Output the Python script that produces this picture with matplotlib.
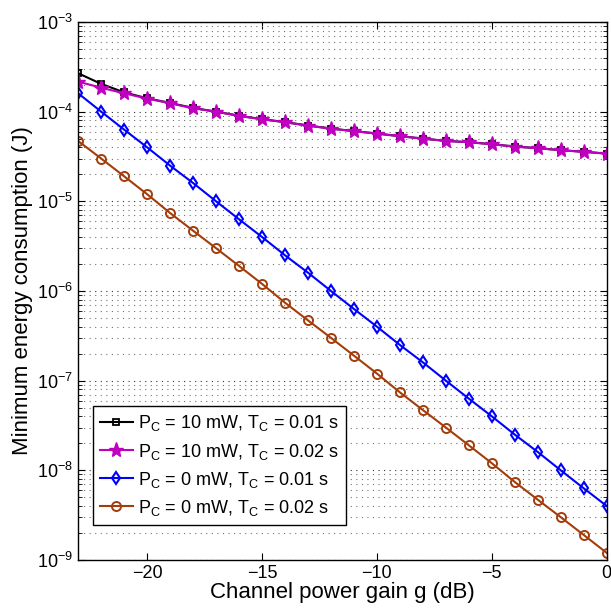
import numpy as np
import matplotlib
matplotlib.use("Agg")
import matplotlib.pyplot as plt
from matplotlib.ticker import LogLocator, NullFormatter

# =========================================================
# 数据
# =========================================================

g_db = [-23, -22, -21, -20, -19, -18, -17, -16, -15, -14, -13, -12,
        -11, -10, -9, -8, -7, -6, -5, -4, -3, -2, -1, 0]

e_pc10_tc001 = [2.68e-4, 2.04e-4, 1.64e-4, 1.41e-4, 1.25e-4, 1.10e-4, 1.0e-4, 9.0e-5,
                8.25e-5, 7.65e-5, 7.0e-5, 6.48e-5, 6.07e-5, 5.7e-5, 5.33e-5, 5.01e-5,
                4.72e-5, 4.57e-5, 4.34e-5, 4.08e-5, 3.92e-5, 3.72e-5, 3.57e-5, 3.41e-5]

e_pc10_tc002 = [2.16e-4, 1.85e-4, 1.60e-4, 1.40e-4, 1.24e-4, 1.09e-4, 1.0e-4, 8.95e-5,
                8.22e-5, 7.62e-5, 6.98e-5, 6.46e-5, 6.05e-5, 5.69e-5, 5.32e-5, 5.0e-5,
                4.71e-5, 4.56e-5, 4.33e-5, 4.07e-5, 3.91e-5, 3.71e-5, 3.56e-5, 3.40e-5]

e_pc0_tc001 = [1.6e-4, 1.0e-4, 6.3e-5, 4.0e-5, 2.5e-5, 1.6e-5, 1.0e-5, 6.3e-6,
               4.0e-6, 2.5e-6, 1.6e-6, 1.0e-6, 6.3e-7, 4.0e-7, 2.5e-7, 1.6e-7,
               1.0e-7, 6.3e-8, 4.0e-8, 2.5e-8, 1.6e-8, 1.0e-8, 6.3e-9, 4.0e-9]

e_pc0_tc002 = [4.7e-5, 3.0e-5, 1.9e-5, 1.2e-5, 7.4e-6, 4.7e-6, 3.0e-6, 1.9e-6,
               1.2e-6, 7.4e-7, 4.7e-7, 3.0e-7, 1.9e-7, 1.2e-7, 7.4e-8, 4.7e-8,
               3.0e-8, 1.9e-8, 1.2e-8, 7.4e-9, 4.7e-9, 3.0e-9, 1.9e-9, 1.2e-9]

labels = [
    r"P$_\mathregular{C}$ = 10 mW, T$_\mathregular{C}$ = 0.01 s",
    r"P$_\mathregular{C}$ = 10 mW, T$_\mathregular{C}$ = 0.02 s",
    r"P$_\mathregular{C}$ = 0 mW, T$_\mathregular{C}$ = 0.01 s",
    r"P$_\mathregular{C}$ = 0 mW, T$_\mathregular{C}$ = 0.02 s",
]

# =========================================================
# 绘图
# =========================================================

plt.rcParams["font.family"] = ["Liberation Sans", "DejaVu Sans"]
plt.rcParams["mathtext.fontset"] = "custom"
plt.rcParams["mathtext.rm"] = "Liberation Sans"
plt.rcParams["mathtext.it"] = "Liberation Sans:italic"
plt.rcParams["mathtext.bf"] = "Liberation Sans:bold"
plt.rcParams["mathtext.default"] = "regular"

fig = plt.figure(figsize=(6.11, 6.11), dpi=100)
ax = fig.add_axes([0.128, 0.0835, 0.865, 0.8805])

brown = "#A33D0B"
ax.plot(g_db, e_pc10_tc001, color="k", lw=1.5, marker="s", ms=5,
        mfc="none", mew=1.3, label=labels[0])
ax.plot(g_db, e_pc10_tc002, color="#C000C0", lw=1.5, marker="*", ms=11,
        mfc="#C000C0", mec="#C000C0", label=labels[1])
ax.plot(g_db, e_pc0_tc001, color="#0000FF", lw=1.5, marker="d", ms=6.5,
        mfc="none", mew=1.5, label=labels[2])
ax.plot(g_db, e_pc0_tc002, color=brown, lw=1.5, marker="o", ms=6.5,
        mfc="none", mew=1.4, label=labels[3])

ax.set_yscale("log")
ax.set_xlim(-23, 0)
ax.set_ylim(1e-9, 1e-3)
ax.set_xticks([-20, -15, -10, -5, 0])
ax.set_xticklabels(["\u221220", "\u221215", "\u221210", "\u22125", "0"])
ax.yaxis.set_major_locator(LogLocator(base=10, numticks=10))
ax.yaxis.set_minor_locator(LogLocator(base=10, subs=np.arange(2, 10), numticks=100))
ax.yaxis.set_minor_formatter(NullFormatter())

ax.grid(True, which="major", axis="y", linestyle=(0, (1, 4)), color="0.2", lw=0.8)
ax.grid(True, which="minor", axis="y", linestyle=(0, (1, 4)), color="0.45", lw=0.8)
ax.set_axisbelow(True)

ax.tick_params(which="both", direction="in", top=True, right=True, labelsize=13)
ax.tick_params(which="major", length=5)
ax.tick_params(which="minor", length=3)
for s in ax.spines.values():
    s.set_linewidth(1.0)

ax.set_xlabel("Channel power gain g (dB)", fontsize=16, labelpad=0)
ax.set_ylabel("Minimum energy consumption (J)", fontsize=16, labelpad=3)

leg = ax.legend(loc="lower left", bbox_to_anchor=(0.028, 0.065), fontsize=13,
                frameon=True, fancybox=False, edgecolor="k", framealpha=1,
                handlelength=1.8, handletextpad=0.28, borderpad=0.4, labelspacing=0.45,
                borderaxespad=0)
leg.get_frame().set_linewidth(1.0)

plt.savefig("out.png", dpi=100)
